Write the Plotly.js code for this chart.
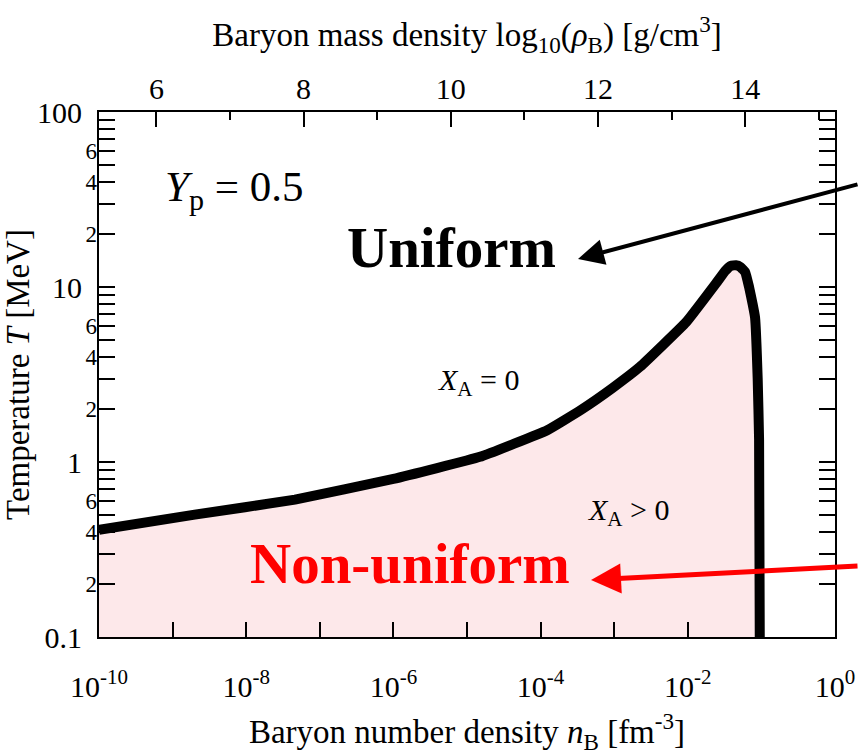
<!DOCTYPE html>
<html>
<head>
<meta charset="utf-8">
<script src="https://cdn.plot.ly/plotly-3.0.1.min.js"></script>
<style>
  html, body { margin: 0; padding: 0; background: #ffffff; }
  #chart { width: 859px; height: 755px; }
</style>
</head>
<body>
<div id="chart"></div>
<script>
// Phase boundary X_A = 0 for Y_p = 0.5: baryon density [fm^-3] vs temperature [MeV]
const boundaryDensity = [1e-10, 2.0e-9, 4.6e-8, 1.0e-6, 1.5e-5, 1.23e-4, 3.5e-4, 9.5e-4,
                         2.24e-3, 9.5e-3, 0.025, 0.0325, 0.0385, 0.045, 0.052, 0.060,
                         0.068, 0.076, 0.082, 0.089, 0.093, 0.095];
const boundaryTemp    = [0.41, 0.50, 0.61, 0.80, 1.07, 1.52, 1.98, 2.65,
                         3.5, 6.3, 10.7, 12.4, 13.2, 13.3, 13.0, 12.2,
                         10.0, 8.0, 6.7, 3.0, 1.34, 0.1];

// axis ranges and tick labels
const densityRange = [1e-10, 1e0];
const tempRange = [0.1, 100];
const densityLabelTicks = [1e-10, 1e-8, 1e-6, 1e-4, 1e-2, 1e0];
const densityLabelText = ['10<sup>-10</sup>', '10<sup>-8</sup>', '10<sup>-6</sup>',
                          '10<sup>-4</sup>', '10<sup>-2</sup>', '10<sup>0</sup>'];
const densityOddTicks = [1e-9, 1e-7, 1e-5, 1e-3, 1e-1];
const tempMajorTicks = [0.1, 1, 10, 100];
const tempMajorText = ['0.1', '1', '10', '100'];
const tempMinorTicks = [0.2, 0.3, 0.4, 0.5, 0.6, 0.7, 0.8, 0.9,
                        2, 3, 4, 5, 6, 7, 8, 9,
                        20, 30, 40, 50, 60, 70, 80, 90];
const tempMinorLabelTicks = [0.2, 0.4, 0.6, 2, 4, 6, 20, 40, 60];
const tempMinorLabelText = ['2', '4', '6', '2', '4', '6', '2', '4', '6'];
const massDensityMajor = [6, 8, 10, 12, 14];
const massDensityMinor = [7, 9, 11, 13, 15];

// mass density of baryons: rho = n * m_u, with 1 fm^-3 = 1e39 cm^-3
const atomicMassUnit = 1.66054e-24; // g
const log10Rho = n => Math.log10(n * 1e39 * atomicMassUnit);

const serif = 'Liberation Serif, Times New Roman, serif';
const axisTickStyle = {ticks: 'inside', tickcolor: '#000', tickwidth: 2};

// closed region below the boundary (non-uniform phase)
const regionX = boundaryDensity.concat([boundaryDensity[boundaryDensity.length - 1], densityRange[0]]);
const regionY = boundaryTemp.concat([tempRange[0], tempRange[0]]);

const traces = [
  {
    x: regionX, y: regionY, type: 'scatter', mode: 'lines',
    fill: 'toself', fillcolor: '#fde8ea', line: {width: 0, color: 'rgba(0,0,0,0)'},
    hoverinfo: 'skip', showlegend: false
  },
  {
    x: boundaryDensity, y: boundaryTemp, type: 'scatter', mode: 'lines',
    line: {color: '#000', width: 10, shape: 'spline', smoothing: 0.3},
    showlegend: false
  },
  // carriers for the secondary axes (top mass-density scale, minor temperature labels)
  {x: [], y: [], xaxis: 'x2', yaxis: 'y', type: 'scatter', showlegend: false},
  {x: [], y: [], xaxis: 'x', yaxis: 'y2', type: 'scatter', showlegend: false}
];

const textLabel = (x, y, text, size, color, xanchor) => ({
  xref: 'paper', yref: 'paper', x: x, y: y, text: text, showarrow: false,
  xanchor: xanchor || 'center', yanchor: 'middle',
  font: {size: size, family: serif, color: color}
});

const layout = {
  width: 859, height: 755,
  margin: {l: 99, r: 24, t: 112, b: 118},
  paper_bgcolor: '#fff', plot_bgcolor: '#fff',
  showlegend: false,
  font: {family: serif, color: '#000'},
  xaxis: Object.assign({
    type: 'log',
    range: densityRange.map(Math.log10),
    tickmode: 'array', tickvals: densityLabelTicks, ticktext: densityLabelText,
    ticklen: 15, tickfont: {size: 30, family: serif},
    minor: {tickmode: 'array', tickvals: densityOddTicks, ticklen: 15,
            ticks: 'inside', tickcolor: '#000', tickwidth: 2, showgrid: false},
    showline: true, linecolor: '#000', linewidth: 2, mirror: true,
    showgrid: false, zeroline: false,
    ticklabelstandoff: 22,
    title: {text: 'Baryon number density <i>n</i><sub>B</sub> [fm<sup>-3</sup>]',
            font: {size: 33, family: serif}, standoff: 26}
  }, axisTickStyle),
  xaxis2: Object.assign({
    overlaying: 'x', side: 'top', anchor: 'y',
    range: densityRange.map(log10Rho),
    tickmode: 'array', tickvals: massDensityMajor, ticktext: massDensityMajor.map(String),
    ticklen: 15, tickfont: {size: 30, family: serif},
    minor: {tickmode: 'array', tickvals: massDensityMinor, ticklen: 8,
            ticks: 'inside', tickcolor: '#000', tickwidth: 2, showgrid: false},
    showline: false, showgrid: false, zeroline: false,
    ticklabelstandoff: 6,
    title: {text: 'Baryon mass density log<sub>10</sub>(<i>ρ</i><sub>B</sub>) [g/cm<sup>3</sup>]',
            font: {size: 33, family: serif}, standoff: 15}
  }, axisTickStyle),
  yaxis: Object.assign({
    type: 'log',
    range: tempRange.map(Math.log10),
    tickmode: 'array', tickvals: tempMajorTicks, ticktext: tempMajorText,
    ticklen: 16, tickfont: {size: 30, family: serif},
    minor: {tickmode: 'array', tickvals: tempMinorTicks, ticklen: 8,
            ticks: 'inside', tickcolor: '#000', tickwidth: 2, showgrid: false},
    showline: true, linecolor: '#000', linewidth: 2, mirror: 'allticks',
    showgrid: false, zeroline: false,
    ticklabelstandoff: 9,
    title: {text: 'Temperature <i>T</i> [MeV]', font: {size: 33, family: serif}, standoff: 0}
  }, axisTickStyle),
  yaxis2: {
    overlaying: 'y', side: 'left', anchor: 'x', type: 'log',
    range: tempRange.map(Math.log10),
    tickmode: 'array', tickvals: tempMinorLabelTicks, ticktext: tempMinorLabelText,
    ticks: '', tickfont: {size: 23, family: serif},
    showline: false, showgrid: false, zeroline: false,
    ticklabelstandoff: 1
  },
  annotations: [
    textLabel(0.4796, 0.741, '<b>Uniform</b>', 57, '#000'),
    textLabel(0.4226, 0.14, '<b>Non-uniform</b>', 57, '#ff0000'),
    textLabel(0.087, 0.851, '<i>Y</i><sub>p</sub> = 0.5', 43, '#000', 'left'),
    textLabel(0.515, 0.486, '<i>X</i><sub>A</sub> = 0', 30, '#000'),
    textLabel(0.72, 0.238, '<i>X</i><sub>A</sub> &gt; 0', 30, '#000'),
    // arrows pointing at the two phase labels
    {xref: 'paper', yref: 'paper', x: 0.6508, y: 0.72, ax: 300, ay: -75,
     text: '', showarrow: true, arrowhead: 2, arrowsize: 1.3, arrowwidth: 4,
     arrowcolor: '#000', standoff: 0, startstandoff: 0},
    {xref: 'paper', yref: 'paper', x: 0.6685, y: 0.1086, ax: 290, ay: -14,
     text: '', showarrow: true, arrowhead: 2, arrowsize: 1.2, arrowwidth: 5,
     arrowcolor: '#ff0000', standoff: 0, startstandoff: 0}
  ]
};

Plotly.newPlot('chart', traces, layout, {displayModeBar: false, staticPlot: true});
</script>
</body>
</html>
